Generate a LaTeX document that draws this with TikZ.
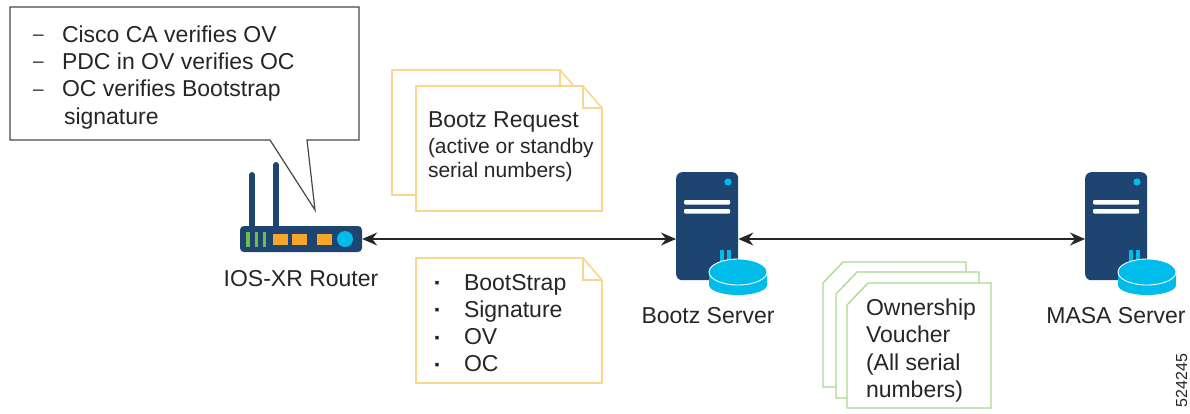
\documentclass[tikz,border=0pt]{standalone}
\usepackage{fontspec}
\setmainfont{Liberation Sans}
\usetikzlibrary{arrows.meta}
\definecolor{navy}{HTML}{1E4471}
\definecolor{sky}{HTML}{00BCEB}
\definecolor{amber}{HTML}{F6A72B}
\definecolor{leaf}{HTML}{6EBE4A}
\definecolor{noteor}{HTML}{FBD68F}
\definecolor{notegr}{HTML}{A9DA92}
\definecolor{ink}{HTML}{262626}
\tikzset{
  x=1pt,y=-1pt,
  notebox/.style={draw=noteor,line width=1.6pt,fill=white,line join=miter},
  foldline/.style={draw=noteor,line width=1.6pt},
  vouch/.style={draw=notegr,line width=1.3pt,fill=white},
  txt/.style={inner sep=0pt,outer sep=0pt,text=ink,font=\fontsize{23}{27.3}\selectfont,anchor=north west,align=left},
  lab/.style={inner sep=0pt,outer sep=0pt,text=ink,font=\fontsize{23}{27}\selectfont,anchor=base},
  servbody/.style={draw=none,fill=navy,rounded corners=6pt,minimum width=62pt,minimum height=108pt,inner sep=0pt,anchor=north west},
  link/.style={draw=ink,line width=1.1pt,{Stealth[length=15pt,width=13pt,inset=5pt]}-{Stealth[length=15pt,width=13pt,inset=5pt]}},
}
\newcommand{\serverglyph}[2]{%
  \node[servbody] (#1) at (#2,172) {};
  \begin{scope}[shift={(#2,172)}]
    \fill[sky] (52,10) circle (3.6);
    \fill[white,rounded corners=1pt] (8,28) rectangle (54,32.5);
    \fill[white,rounded corners=1pt] (8,37) rectangle (54,41.5);
    \fill[sky] (44,78) rectangle (47.5,90);
    \fill[sky] (51,78) rectangle (54.5,90);
    \fill[sky] (33,100) -- (33,113) arc[start angle=180,end angle=0,x radius=29,y radius=10] -- (91,100) -- cycle;
    \fill[sky,draw=white,line width=0.9pt] (62,100) ellipse (29 and 13);
  \end{scope}
}
\newcommand{\dashitem}{\makebox[29pt][l]{\raisebox{1.5pt}{\fontsize{19}{19}\selectfont –}}}
\newcommand{\dotitem}{\makebox[29.5pt][l]{\raisebox{2.5pt}{\fontsize{14}{14}\selectfont ▪}}}
\begin{document}
\begin{tikzpicture}
\useasboundingbox (0,0) rectangle (1190,413);
\fill[white] (0,0) rectangle (1190,413);

% callout
\draw[draw=ink!85,line width=1.2pt,fill=white,line join=miter]
  (10,7) -- (359,7) -- (359,140) -- (307,140) -- (315,210) -- (270,140) -- (10,140) -- cycle;
\node[txt] (verify) at (33,25.5) {\dashitem Cisco CA verifies OV\\
\dashitem PDC in OV verifies OC\\
\dashitem OC verifies Bootstrap\\
\makebox[31pt][l]{}signature};

% router
\fill[navy] (249,175) rectangle (255,228);
\fill[navy] (252,175) circle (3);
\fill[navy] (273,165) rectangle (279,228);
\fill[navy] (276,165) circle (3);
\node[draw=none,fill=navy,rounded corners=4pt,minimum width=122pt,minimum height=26pt,inner sep=0pt] (router) at (301,239) {};
\foreach \gx in {248,256.5,264.5}
  \fill[leaf] (\gx-1.6,232) rectangle (\gx+1.6,247);
\foreach \ox in {273,292,317}
  \fill[amber] (\ox,234) rectangle (\ox+14.5,245);
\fill[sky] (345,239) circle (8);
\node[lab] (routerlab) at (301,286) {IOS-XR Router};

% servers
\serverglyph{bootz}{676}
\node[lab] (bootzlab) at (708,323) {Bootz Server};
\serverglyph{masa}{1085}
\node[lab] (masalab) at (1116,323) {MASA Server};

% links
\draw[link] (router.east) -- (bootz.west |- router.east);
\draw[link] (bootz.east |- router.east) -- (masa.west |- router.east);

% request notes
\draw[notebox] (392,70) -- (560,70) -- (574,86) -- (574,195) -- (392,195) -- cycle;
\draw[foldline] (560,70) -- (560,86) -- (574,86);
\draw[notebox] (416,86) -- (583,86) -- (602,108) -- (602,211) -- (416,211) -- cycle;
\draw[foldline] (583,86) -- (583,108) -- (602,108);
\node[txt] (req) at (428,111.5) {Bootz Request};
\node[inner sep=0pt,outer sep=0pt,text=ink,anchor=north west,align=left,font=\fontsize{21}{24.5}\selectfont] (reqsub) at (428,138) {(active or standby\\serial numbers)};

% bootstrap note
\draw[notebox] (416,258) -- (583,258) -- (602,280) -- (602,383) -- (416,383) -- cycle;
\draw[foldline] (583,258) -- (583,280) -- (602,280);
\node[txt] (boot) at (434.5,274) {\dotitem BootStrap\\
\dotitem Signature\\
\dotitem OV\\
\dotitem OC};

% voucher notes
\draw[vouch] (843,262) -- (966,262) -- (966,387) -- (823,387) -- (823,283) -- cycle;
\draw[vouch] (857,272) -- (979,272) -- (979,398) -- (836,398) -- (836,294) -- cycle;
\draw[vouch] (868,283) -- (991,283) -- (991,408) -- (847,408) -- (847,305) -- cycle;
\node[txt] (ov) at (866,299) {Ownership\\Voucher\\(All serial\\numbers)};

\node[inner sep=0pt,outer sep=0pt,text=ink,rotate=90,font=\fontsize{16}{17}\selectfont] (figid) at (1181.5,380.5) {524245};
\end{tikzpicture}
\end{document}
